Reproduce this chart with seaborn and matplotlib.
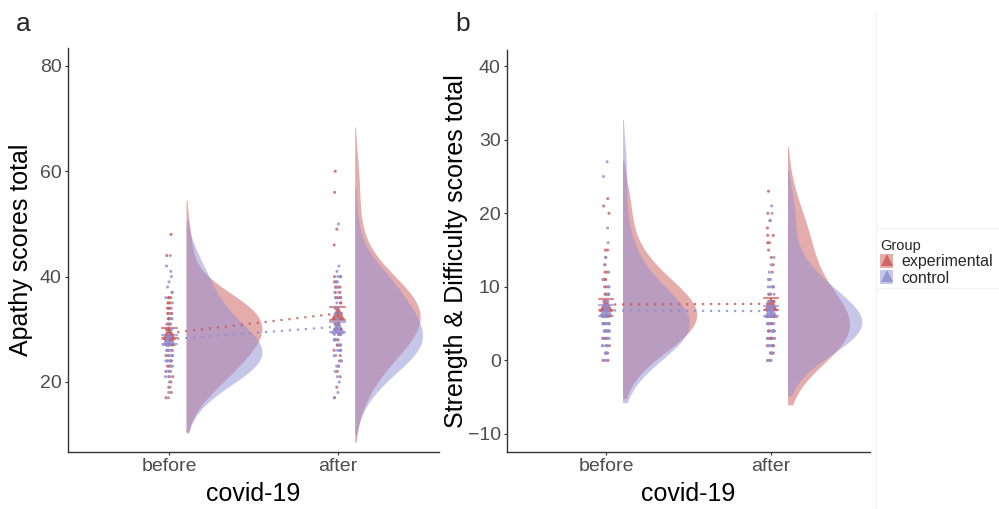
import matplotlib.pyplot as plt
import numpy as np
import pandas as pd
import seaborn as sns
from matplotlib.lines import Line2D
from matplotlib.patches import Patch
from matplotlib.legend_handler import HandlerTuple

times = ["before", "after"]
groups = ["experimental", "control"]
colors = {"experimental": "#CC5A5A", "control": "#8E8ED3"}

# panel a: apathy scores
apathy_exp_before = [17, 18, 19, 20, 21, 21, 22, 22, 23, 23, 24, 24, 25, 25, 26, 26, 27, 27, 27, 28,
                     28, 28, 29, 29, 29, 30, 30, 30, 31, 31, 31, 32, 32, 32, 33, 33, 33, 33, 34, 34,
                     34, 35, 35, 35, 36, 36, 36, 37, 44, 48]
apathy_ctl_before = [17, 18, 19, 20, 21, 21, 22, 22, 22, 23, 23, 23, 24, 24, 24, 24, 25, 25, 25, 25,
                     25, 26, 26, 26, 26, 27, 27, 27, 28, 28, 28, 29, 29, 30, 30, 31, 31, 32, 32, 33,
                     34, 35, 36, 37, 38, 39, 40, 41, 42, 44]
apathy_exp_after = [17, 19, 21, 22, 23, 24, 25, 26, 26, 27, 27, 28, 28, 29, 29, 30, 30, 30, 31, 31,
                    31, 31, 31, 32, 32, 32, 33, 33, 33, 34, 34, 35, 35, 36, 36, 36, 36, 37, 37, 38,
                    38, 38, 39, 39, 40, 40, 46, 49, 56, 60]
apathy_ctl_after = [17, 18, 20, 21, 22, 23, 23, 24, 24, 25, 25, 26, 26, 26, 27, 27, 27, 27, 28, 28,
                    28, 28, 29, 29, 29, 30, 30, 30, 31, 31, 32, 32, 33, 33, 34, 34, 35, 36, 36, 37,
                    37, 38, 38, 39, 39, 40, 40, 41, 42, 50]

# panel b: strength & difficulty scores
sdq_exp_before = [0, 0, 1, 1, 2, 2, 3, 3, 3, 4, 4, 4, 4, 5, 5, 5, 5, 5, 5, 6,
                  6, 6, 6, 6, 7, 7, 7, 7, 7, 8, 8, 8, 8, 9, 9, 9, 9, 10, 10, 11,
                  11, 12, 12, 13, 14, 15, 15, 20, 21, 22]
sdq_ctl_before = [0, 0, 1, 1, 1, 2, 2, 2, 2, 3, 3, 3, 3, 4, 4, 4, 4, 4, 5, 5,
                  5, 5, 5, 5, 5, 6, 6, 6, 6, 6, 6, 7, 7, 7, 7, 8, 8, 8, 9, 9,
                  10, 10, 11, 12, 13, 14, 16, 18, 25, 27]
sdq_exp_after = [0, 0, 1, 1, 1, 2, 2, 2, 2, 3, 3, 3, 3, 3, 4, 4, 4, 4, 5, 5,
                 5, 5, 5, 6, 6, 6, 6, 7, 7, 7, 8, 8, 8, 9, 9, 10, 10, 11, 12, 13,
                 14, 15, 16, 16, 17, 17, 18, 19, 20, 23]
sdq_ctl_after = [0, 0, 1, 1, 2, 2, 2, 3, 3, 3, 3, 4, 4, 4, 4, 4, 4, 4, 5, 5,
                 5, 5, 5, 5, 6, 6, 6, 6, 6, 6, 7, 7, 7, 7, 8, 8, 8, 9, 9, 10,
                 10, 10, 11, 11, 12, 13, 14, 19, 20, 21]


def long_table(series):
    rows = []
    for (time, group), values in series.items():
        for v in values:
            rows.append({"time": time, "group": group, "score": v})
    return pd.DataFrame(rows)


apathy = long_table({
    ("before", "experimental"): apathy_exp_before,
    ("before", "control"): apathy_ctl_before,
    ("after", "experimental"): apathy_exp_after,
    ("after", "control"): apathy_ctl_after,
})
sdq = long_table({
    ("before", "experimental"): sdq_exp_before,
    ("before", "control"): sdq_ctl_before,
    ("after", "experimental"): sdq_exp_after,
    ("after", "control"): sdq_ctl_after,
})

sns.set_theme(style="ticks")
plt.rcParams["font.family"] = ["Liberation Sans", "DejaVu Sans"]

fig = plt.figure(figsize=(9.99, 5.09), dpi=100)
ax_a = fig.add_axes([68 / 999, 57 / 509, 371 / 999, 404 / 509])
ax_b = fig.add_axes([507 / 999, 57 / 509, 363 / 999, 402 / 509])


def raincloud(ax, df):
    # full overlapping violins; keep the right half, shifted a bit right of the category
    sns.violinplot(data=df, x="time", y="score", hue="group", order=times, hue_order=groups,
                   dodge=False, inner=None, density_norm="area", width=0.9,
                   bw_adjust=1.5, cut=1.5, palette=colors, saturation=1, linewidth=0,
                   legend=False, ax=ax)
    for coll in list(ax.collections):
        coll.set_alpha(0.5)
        verts = []
        for path in coll.get_paths():
            v = np.array(path.vertices, dtype=float)
            if path.codes is not None:
                v = v[path.codes != path.CLOSEPOLY]
            c = (v[:, 0].min() + v[:, 0].max()) / 2
            v[:, 0] = c + 0.1 + np.clip(v[:, 0] - c, 0, None)
            verts.append(v)
        coll.set_verts(verts)

    np.random.seed(7)  # jitter only
    sns.stripplot(data=df, x="time", y="score", hue="group", order=times, hue_order=groups,
                  palette=colors, jitter=0.022, size=2.2, alpha=0.8, dodge=False,
                  linewidth=0, legend=False, ax=ax)

    sns.pointplot(data=df, x="time", y="score", hue="group", order=times, hue_order=groups,
                  palette=colors, markers="^", linestyles=[(0, (1, 2.6)), (0, (1, 2.6))],
                  errorbar="se", capsize=0.09, dodge=False, markersize=10, linewidth=1.6,
                  markeredgewidth=0, alpha=0.85, err_kws={"linewidth": 1.6, "alpha": 0.7},
                  legend=False, ax=ax)

    ax.set_xlim(-0.6, 1.6)
    sns.despine(ax=ax)
    for s in ["left", "bottom"]:
        ax.spines[s].set_color("#333333")
        ax.spines[s].set_linewidth(1.0)
    ax.tick_params(axis="both", labelsize=14, labelcolor="#4D4D4D", color="#333333",
                   length=2.5, width=0.8, pad=2)
    ax.set_xlabel("covid-19", fontsize=18, color="black")
    ax.xaxis.set_label_coords(0.5, -0.074)


raincloud(ax_a, apathy)
ax_a.set_ylim(6.7, 83.4)
ax_a.set_yticks([20, 40, 60, 80])
ax_a.set_ylabel("Apathy scores total", fontsize=18, color="black")
ax_a.yaxis.set_label_coords(-0.094, 0.5)

raincloud(ax_b, sdq)
ax_b.set_ylim(-12.45, 42.2)
ax_b.set_yticks([-10, 0, 10, 20, 30, 40])
ax_b.set_ylabel("Strength & Difficulty scores total", fontsize=18, color="black")
ax_b.yaxis.set_label_coords(-0.108, 0.5)

fig.text(16 / 999, 1 - 31 / 509, "a", fontsize=19, ha="left", va="baseline")
fig.text(455 / 999, 1 - 31 / 509, "b", fontsize=19, ha="left", va="baseline")

# faint guide box around the legend area
for xs, ys in [([876, 876], [12, 509]), ([876, 999], [228, 228]), ([876, 999], [288, 288])]:
    fig.add_artist(Line2D([x / 999 for x in xs], [1 - y / 509 for y in ys],
                          transform=fig.transFigure, color="#F3F3F3", linewidth=0.8))

handles = []
for g in groups:
    handles.append((Patch(facecolor=colors[g], alpha=0.5, linewidth=0),
                    Line2D([], [], marker="^", color=colors[g], linestyle="none",
                           markersize=9, markeredgewidth=0, alpha=0.85)))
leg = fig.legend(handles, groups, handler_map={tuple: HandlerTuple(ndivide=1, pad=0)},
                 title="Group", loc="upper left", bbox_to_anchor=(867 / 999, 1 - 226 / 509),
                 frameon=False, fontsize=11.5, title_fontsize=10.5, handlelength=0.85,
                 handleheight=1.0, handletextpad=0.5, labelspacing=0.05, borderpad=0.3,
                 alignment="left")

fig.savefig("out.png", dpi=100)
